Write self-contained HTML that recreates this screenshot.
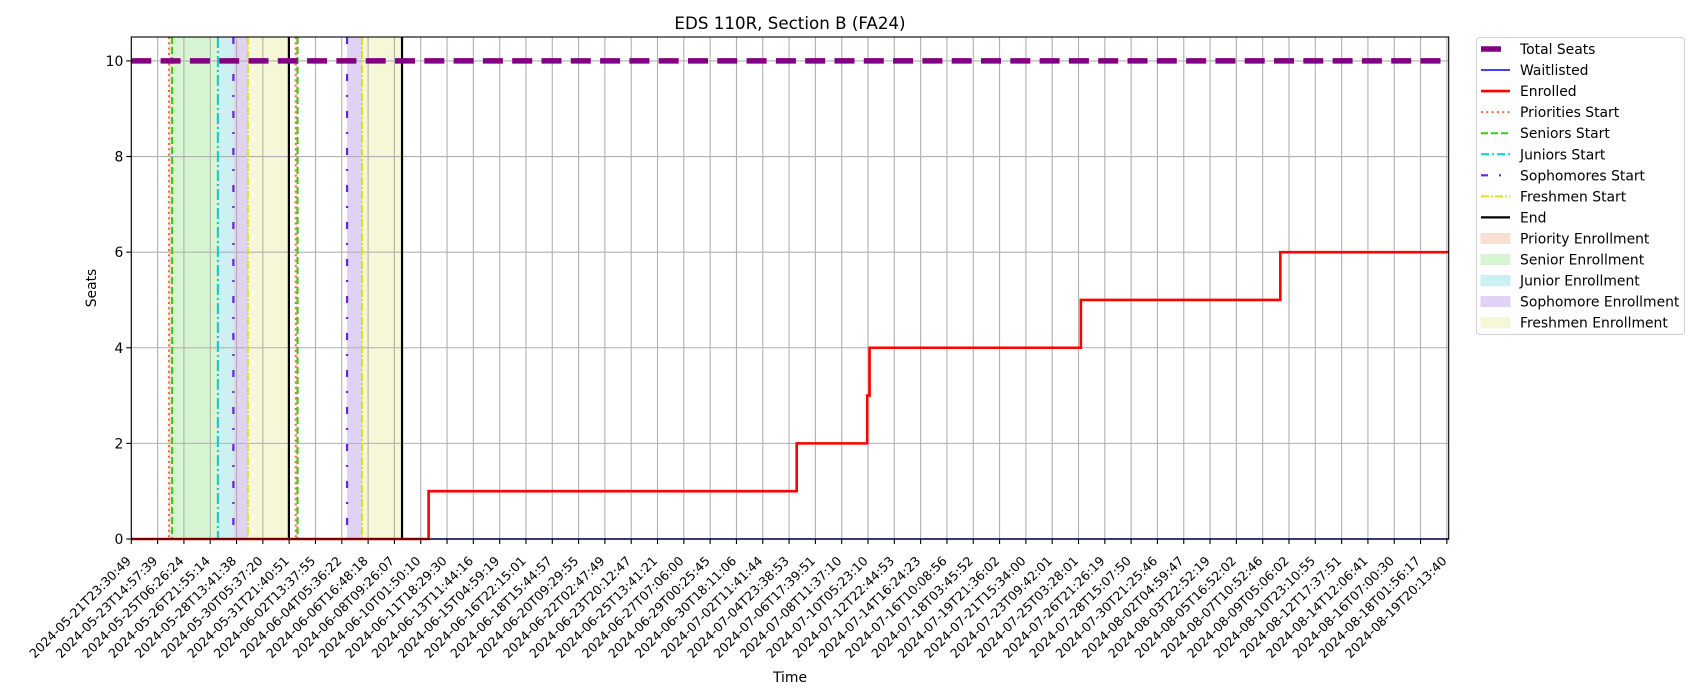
<!DOCTYPE html>
<html><head><meta charset="utf-8"><style>
body{margin:0;background:#fff;}
svg{display:block;font-family:"DejaVu Sans","Liberation Sans",sans-serif;}
</style></head><body>
<svg id="chart" width="1700" height="700" viewBox="0 0 1700 700" xmlns="http://www.w3.org/2000/svg">
<rect width="1700" height="700" fill="#fff"/>
<g id="shade"></g><g id="grid"></g><g id="vlines"></g><g id="series"></g><g id="axes"></g><g id="legend"></g>
</svg>
<script>
const tickLabels=["2024-05-21T23:30:49","2024-05-23T14:57:39","2024-05-25T06:26:24","2024-05-26T21:55:14","2024-05-28T13:41:38","2024-05-30T05:37:20","2024-05-31T21:40:51","2024-06-02T13:37:55","2024-06-04T05:36:22","2024-06-06T16:48:18","2024-06-08T09:26:07","2024-06-10T01:50:10","2024-06-11T18:29:30","2024-06-13T11:44:16","2024-06-15T04:59:19","2024-06-16T22:15:01","2024-06-18T15:44:57","2024-06-20T09:29:55","2024-06-22T02:47:49","2024-06-23T20:12:47","2024-06-25T13:41:21","2024-06-27T07:06:00","2024-06-29T00:25:45","2024-06-30T18:11:06","2024-07-02T11:41:44","2024-07-04T23:38:53","2024-07-06T17:39:51","2024-07-08T11:37:10","2024-07-10T05:23:10","2024-07-12T22:44:53","2024-07-14T16:24:23","2024-07-16T10:08:56","2024-07-18T03:45:52","2024-07-19T21:36:02","2024-07-21T15:34:00","2024-07-23T09:42:01","2024-07-25T03:28:01","2024-07-26T21:26:19","2024-07-28T15:07:50","2024-07-30T21:25:46","2024-08-02T04:59:47","2024-08-03T22:52:19","2024-08-05T16:52:02","2024-08-07T10:52:46","2024-08-09T05:06:02","2024-08-10T23:10:55","2024-08-12T17:37:51","2024-08-14T12:06:41","2024-08-16T07:00:30","2024-08-18T01:56:17","2024-08-19T20:13:40"];
const yTicks=[0,2,4,6,8,10];
const totalSeats=10;
const enrolledX=[0,11.30,25.29,27.97,28.06,36.09,43.67,50.08];
const enrolledY=[0,1,2,3,4,5,6];
const waitlistX=[0,50.08];
const waitlistY=[0,0];
const priorityStarts=[1.43,6.25];
const seniorStarts=[1.55,6.32];
const juniorStarts=[3.29];
const sophomoreStarts=[3.88,8.20];
const freshmenStarts=[4.43,8.77];
const endMarks=[5.99,10.29];
const priorityBands=[[1.43,1.55],[6.25,6.32]];
const seniorBands=[[1.55,3.29]];
const juniorBands=[[3.29,3.88]];
const sophomoreBands=[[3.88,4.43],[8.20,8.77]];
const freshmenBands=[[4.43,5.99],[8.77,10.29]];

const L=131.3,R=1448.7,T=37,B=539,XMIN=0,XMAX=50.07,YMIN=0,YMAX=10.5;
const sx=v=>L+(v-XMIN)/(XMAX-XMIN)*(R-L);
const sy=v=>B-(v-YMIN)/(YMAX-YMIN)*(B-T);
const NS="http://www.w3.org/2000/svg";
function mk(tag,attrs,parent,text){const e=document.createElementNS(NS,tag);for(const k in attrs)e.setAttribute(k,attrs[k]);if(text!==undefined)e.textContent=text;parent.appendChild(e);return e;}
const G=id=>document.getElementById(id);

function bands(arr,fill,name){arr.forEach(b=>{const r=mk('rect',{x:sx(b[0]),y:T,width:sx(b[1])-sx(b[0]),height:B-T,fill:fill},G('shade'));

});}
bands(priorityBands,'#f9dfd3','priority-enrollment-band');
bands(seniorBands,'#d8f5d3','senior-enrollment-band');
bands(juniorBands,'#cdf0f2','junior-enrollment-band');
bands(sophomoreBands,'#e0d2f4','sophomore-enrollment-band');
bands(freshmenBands,'#f6f7d6','freshmen-enrollment-band');

tickLabels.forEach((t,i)=>{const l=mk('line',{x1:sx(i),x2:sx(i),y1:T,y2:B,stroke:'#b0b0b0','stroke-width':1.1},G('grid'));

});
yTicks.forEach(v=>{const l=mk('line',{x1:L,x2:R,y1:sy(v),y2:sy(v),stroke:'#b0b0b0','stroke-width':1.1},G('grid'));

});

function vl(arr,color,dash,w,name){arr.forEach(v=>{const a={x1:sx(v),x2:sx(v),y1:T,y2:B,stroke:color,'stroke-width':w};if(dash)a['stroke-dasharray']=dash;const l=mk('line',a,G('vlines'));

});}
vl(priorityStarts,'#f06a35','2,3.3',2,'priorities-start-line');
vl(seniorStarts,'#33cc11','7,3',2,'seniors-start-line');
vl(juniorStarts,'#11c8cc','11,3,2,3',2,'juniors-start-line');
vl(sophomoreStarts,'#6622dd','7,14,2,14',2.2,'sophomores-start-line');
vl(freshmenStarts,'#dddd22','8,2,2,2',2,'freshmen-start-line');
vl(endMarks,'#000','',2.2,'end-line');

const ts=mk('line',{x1:L,x2:R,y1:sy(totalSeats),y2:sy(totalSeats),stroke:'#800080','stroke-width':5.5,'stroke-dasharray':'20,9.3'},G('series'));


const wl=mk('polyline',{points:waitlistX.map((x,i)=>sx(x)+','+sy(waitlistY[i])).join(' '),fill:'none',stroke:'#0000ff','stroke-width':1.5},G('series'));


let pts=[];enrolledY.forEach((v,i)=>{pts.push(sx(enrolledX[i])+','+sy(v));pts.push(sx(enrolledX[i+1])+','+sy(v));});
const en=mk('polyline',{points:pts.join(' '),fill:'none',stroke:'#ff0000','stroke-width':2.6},G('series'));



const ax=G('axes');
const fr=mk('rect',{x:L,y:T,width:R-L,height:B-T,fill:'none',stroke:'#000','stroke-width':1.1},ax);


tickLabels.forEach((t,i)=>{const x=sx(i);mk('line',{x1:x,x2:x,y1:B,y2:B+5,stroke:'#000','stroke-width':1.1},ax);
const tx=mk('text',{transform:`translate(${x-6},${B+16}) rotate(-45)`,'text-anchor':'end',dy:'0.75em','font-size':12.6,fill:'#000'},ax,t);

});
yTicks.forEach(v=>{const y=sy(v);mk('line',{x1:L-5,x2:L,y1:y,y2:y,stroke:'#000','stroke-width':1.1},ax);
const tx=mk('text',{x:L-8,y:y+5,'text-anchor':'end','font-size':13.9,fill:'#000'},ax,String(v));

});
const ti=mk('text',{x:(L+R)/2,y:29,'text-anchor':'middle','font-size':16.7,fill:'#000'},ax,'EDS 110R, Section B (FA24)');


const xt=mk('text',{x:(L+R)/2,y:682,'text-anchor':'middle','font-size':13.9,fill:'#000'},ax,'Time');


const yt=mk('text',{transform:`translate(96,${(T+B)/2}) rotate(-90)`,'text-anchor':'middle','font-size':13.9,fill:'#000'},ax,'Seats');



const lg=G('legend');
const box=mk('rect',{x:1476.5,y:37.5,width:208,height:297,rx:3,fill:'#fff',stroke:'#d0d0d0','stroke-width':1},lg);


const entries=[
['Total Seats','line','#800080',5.5,'20,100'],
['Waitlisted','line','#0000ff',1.5,''],
['Enrolled','line','#ff0000',2.6,''],
['Priorities Start','line','#f06a35',2,'2,3.3'],
['Seniors Start','line','#33cc11',2,'7,3'],
['Juniors Start','line','#11c8cc',2,'8,3,2,3'],
['Sophomores Start','line','#6622dd',2.2,'7,11,2,11'],
['Freshmen Start','line','#dddd22',2,'8,2,2,2'],
['End','line','#000',2.2,''],
['Priority Enrollment','patch','#f9dfd3'],
['Senior Enrollment','patch','#d8f5d3'],
['Junior Enrollment','patch','#cdf0f2'],
['Sophomore Enrollment','patch','#e0d2f4'],
['Freshmen Enrollment','patch','#f6f7d6']];
entries.forEach((e,i)=>{const y=49+i*21.05;const g=mk('g',{},lg);


if(e[1]==='line'){const a={x1:1481,x2:1510,y1:y,y2:y,stroke:e[2],'stroke-width':e[3]};if(e[4])a['stroke-dasharray']=e[4];mk('line',a,g);}
else mk('rect',{x:1481,y:y-5,width:29,height:10,fill:e[2],stroke:e[2],'stroke-width':1},g);
mk('text',{x:1520,y:y+5,'font-size':13.9,fill:'#000'},g,e[0]);});
</script>
</body></html>
